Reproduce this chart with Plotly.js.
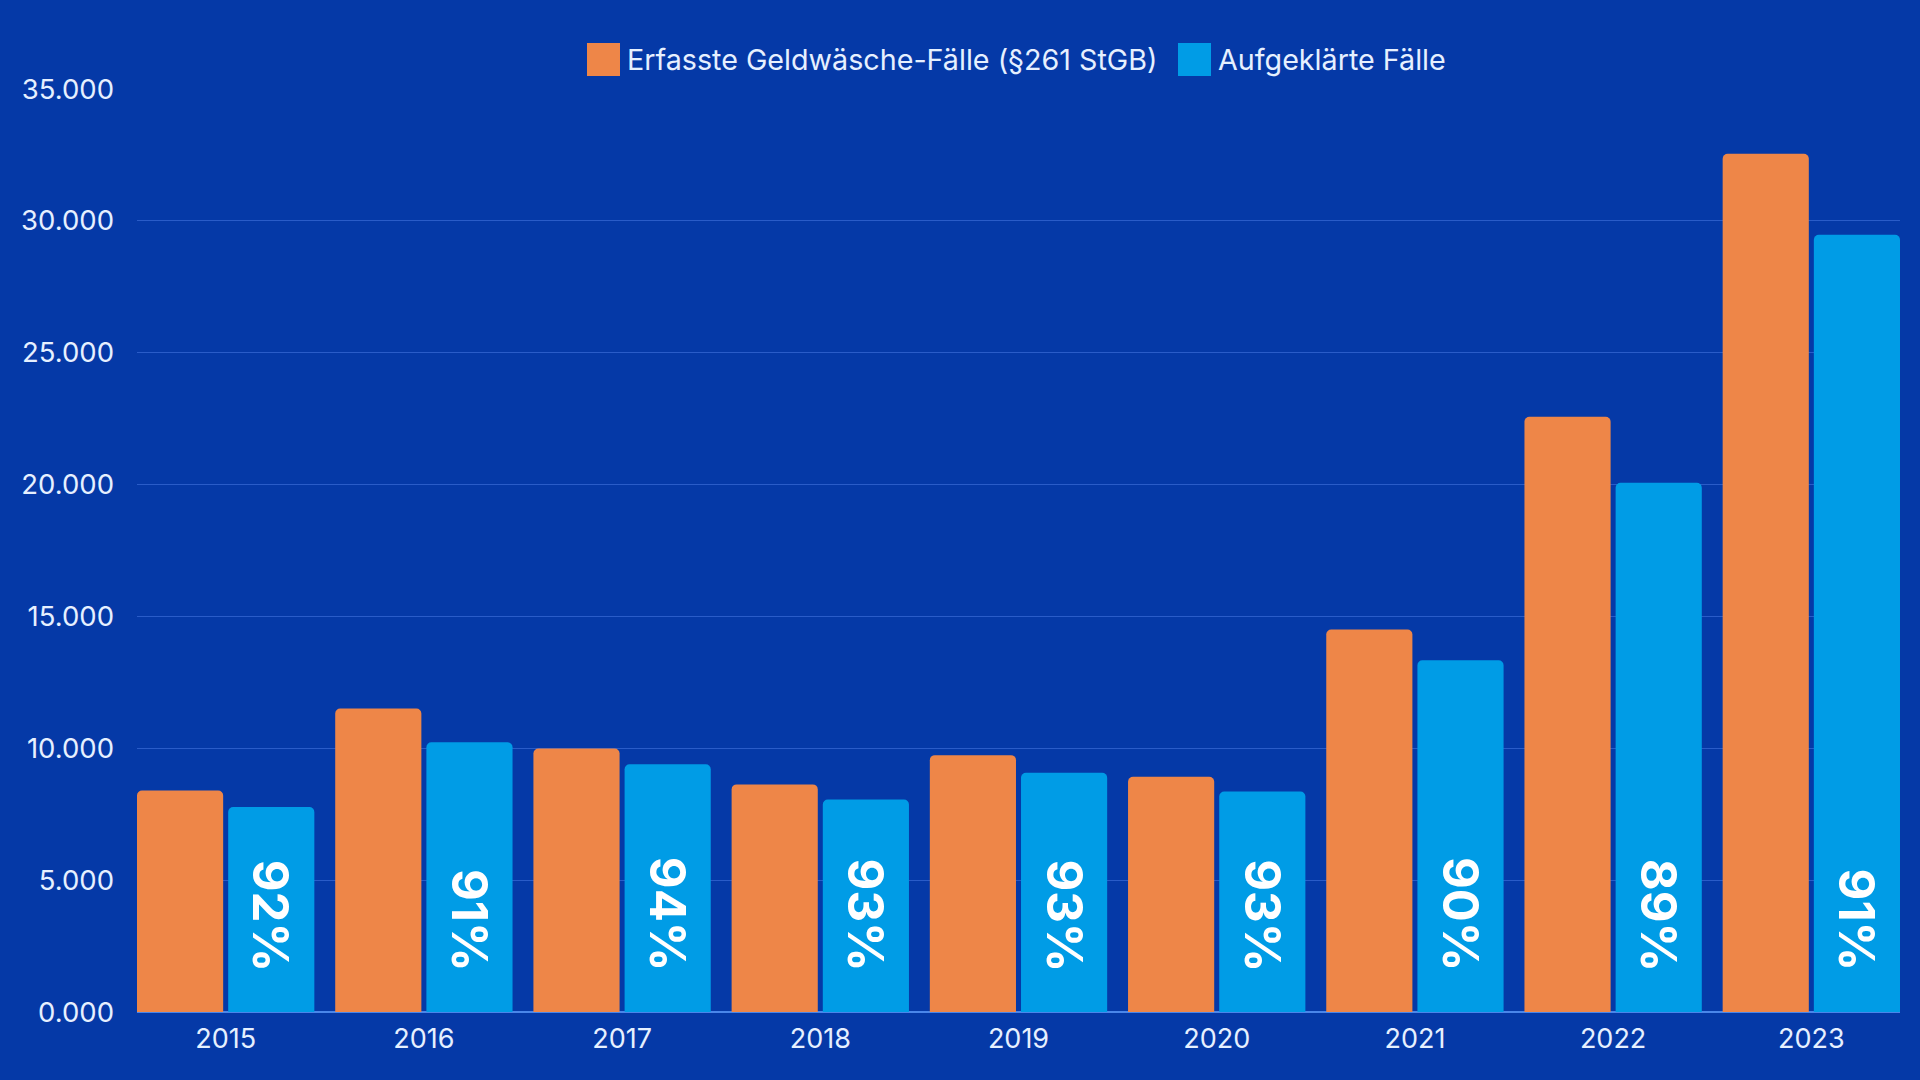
<!DOCTYPE html>
<html>
<head>
<meta charset="utf-8">
<script src="https://cdn.plot.ly/plotly-3.0.1.min.js"></script>
<style>
html,body{margin:0;padding:0;background:#0539a7;}
#chart{width:1920px;height:1080px;}
</style>
</head>
<body>
<div id="chart"></div>
<script>
const years = ['2015','2016','2017','2018','2019','2020','2021','2022','2023'];
const recordedCases = [8400, 11510, 9990, 8630, 9740, 8920, 14500, 22570, 32540];
const solvedCases = [7770, 10230, 9390, 8060, 9070, 8360, 13340, 20070, 29470];
const clearanceRates = ['92%','91%','94%','93%','93%','93%','90%','89%','91%'];
const yTickValues = [0, 5000, 10000, 15000, 20000, 25000, 30000, 35000];
const yTickLabels = ['0.000','5.000','10.000','15.000','20.000','25.000','30.000','35.000'];
const seriesNames = ['Erfasste Geldwäsche-Fälle (§261 StGB)', 'Aufgeklärte Fälle'];
const seriesColors = ['#EE8648', '#009CE6'];

const FONT = 'Inter, "Noto Sans", sans-serif';
const TEXT_COLOR = '#e6f0ff';
const BARGAP = 0.08;
const BARGROUPGAP = 0.055;

const traces = [
  {type:'bar', name:seriesNames[0], x:years, y:recordedCases, marker:{color:seriesColors[0]}, hoverinfo:'x+y'},
  {type:'bar', name:seriesNames[1], x:years, y:solvedCases, marker:{color:seriesColors[1]}, hoverinfo:'x+y'}
];

const slot = (1 - BARGAP) / 2;
const blueOffset = slot / 2;
const edge = 0.5 - BARGAP / 2 - slot * BARGROUPGAP / 2;
const annotations = clearanceRates.map((t, i) => ({
  x: i + blueOffset, xref:'x', y: 0, yref:'y',
  yanchor:'bottom', xanchor:'center', yshift: 38,
  text: t, textangle: 90, showarrow:false,
  font:{family:FONT, size:49, color:'#ffffff', weight:700}
}));

// custom legend (large swatches)
const plotL = 137, plotW = 1763, plotB = 1012, plotH = 923;
const px = v => (v - plotL) / plotW;
const py = v => (plotB - v) / plotH;
const legendItems = [
  {sx0:587, sx1:620, tx:625, color:seriesColors[0], text:seriesNames[0]},
  {sx0:1178, sx1:1211, tx:1216, color:seriesColors[1], text:seriesNames[1]}
];
const shapes = legendItems.map(it => ({
  type:'rect', xref:'paper', yref:'paper',
  x0:px(it.sx0), x1:px(it.sx1), y0:py(76), y1:py(43),
  fillcolor:it.color, line:{width:0}
}));
legendItems.forEach(it => annotations.push({
  xref:'paper', yref:'paper', x:px(it.tx), y:py(59.5),
  xanchor:'left', yanchor:'middle', showarrow:false,
  text:it.text, font:{family:FONT, size:28.7, color:TEXT_COLOR}
}));

const layout = {
  width:1920, height:1080,
  paper_bgcolor:'#0539a7', plot_bgcolor:'#0539a7',
  margin:{l:137, r:20, t:89, b:68, pad:0},
  barmode:'group', bargap:BARGAP, bargroupgap:BARGROUPGAP, barcornerradius:5,
  showlegend:false,
  font:{family:FONT, color:TEXT_COLOR},
  xaxis:{
    type:'category', range:[-edge, years.length - 1 + edge], showgrid:false, zeroline:false,
    showline:false, ticks:'', ticklabelstandoff:8,
    tickfont:{family:FONT, size:27, color:TEXT_COLOR}
  },
  yaxis:{
    range:[0, 35000], tickvals:yTickValues, ticktext:yTickLabels,
    showgrid:true, gridcolor:'#2a5cc8', gridwidth:1,
    zeroline:true, zerolinecolor:'#4a86ea', zerolinewidth:2,
    showline:false, ticks:'', ticklabelstandoff:22,
    tickfont:{family:FONT, size:27.5, color:TEXT_COLOR}
  },
  shapes:shapes,
  annotations:annotations
};

Plotly.newPlot('chart', traces, layout, {displayModeBar:false, staticPlot:true});
</script>
</body>
</html>
